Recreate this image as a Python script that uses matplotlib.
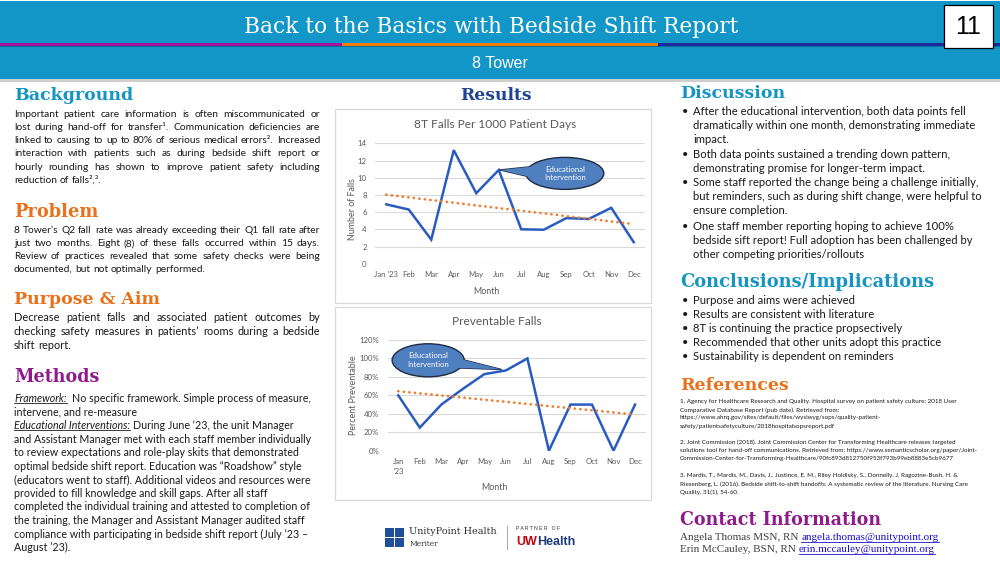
import matplotlib
matplotlib.use('Agg')
import matplotlib.pyplot as plt
from matplotlib.patches import Rectangle, Ellipse, Polygon
import numpy as np

# ---------------- data ----------------
months = ["Jan '23", "Feb", "Mar", "Apr", "May", "Jun", "Jul", "Aug", "Sep", "Oct", "Nov", "Dec"]
months2 = ["Jan\n'23", "Feb", "Mar", "Apr", "May", "Jun", "Jul", "Aug", "Sep", "Oct", "Nov", "Dec"]
falls_per_1000 = [6.9, 6.3, 2.8, 13.2, 8.2, 10.9, 4.0, 3.95, 5.3, 5.2, 6.5, 2.5]
pct_preventable = [60, 25, 50, 67, 83, 87, 100, 0, 50, 50, 0, 50]
falls_yticks = [0, 2, 4, 6, 8, 10, 12, 14]
pct_yticks = [0, 20, 40, 60, 80, 100, 120]
intervention_month = "Jun"

# ---------------- setup ----------------
W, H = 1000, 563
fig = plt.figure(figsize=(10, 5.63), dpi=100)
fig.patch.set_facecolor('white')
bg = fig.add_axes([0, 0, 1, 1])
bg.set_xlim(0, W); bg.set_ylim(H, 0); bg.axis('off')
R = fig.canvas.get_renderer()

BODY = ['Lato', 'DejaVu Sans']
SERIF = ['DejaVu Serif']
TXT = '#1a1a1a'

def wid(t):
    return t.get_window_extent(renderer=R).width

def fit(t, target):
    w = wid(t)
    t.set_fontsize(t.get_fontsize() * target / w)
    return t

def space_w(size, **kw):
    a = bg.text(0, 0, 'a a', fontsize=size, **kw)
    b = bg.text(0, 0, 'aa', fontsize=size, **kw)
    s = wid(a) - wid(b)
    a.remove(); b.remove()
    return s

def justify(x0, x1, y, line, size, last=False, color=TXT, family=BODY):
    words = line.split()
    ts = [bg.text(0, y, w, fontsize=size, va='center', ha='left', color=color, family=family) for w in words]
    ws = [wid(t) for t in ts]
    if last or len(words) == 1:
        gap = space_w(size, family=family)
    else:
        gap = (x1 - x0 - sum(ws)) / (len(words) - 1)
    x = x0
    for t, w in zip(ts, ws):
        t.set_x(x)
        x += w + gap

st_color = {'n': TXT, 'iu': TXT}

def rich(x, y, segs, size, family=BODY):
    sp = space_w(size, family=family)
    for s, st in segs:
        lead = len(s) - len(s.lstrip(' '))
        x += lead * sp
        s = s.strip(' ')
        italic = 'i' in st
        color = st_color.get(st, TXT)
        t = bg.text(x, y, s, fontsize=size, va='center', ha='left', color=color,
                    family=family, style='italic' if italic else 'normal')
        w = wid(t)
        if 'u' in st:
            bg.plot([x, x + w], [y + size * 0.62, y + size * 0.62], color=color, lw=0.6)
        x += w

def heading(x, y, s, color, target, ha='left'):
    t = bg.text(x, y, s, fontsize=13, va='center', ha=ha, color=color,
                family=SERIF, weight='bold')
    fit(t, target)
    return t

# ---------------- header ----------------
bg.add_patch(Rectangle((0, 1), W, 78, color='#1196c7', lw=0, zorder=1))
bg.add_patch(Rectangle((0, 79), W, 3, color='#cfcfcf', lw=0, zorder=1))
bg.add_patch(Rectangle((0, 45.5), W, 1.8, color='#0a6f96', lw=0, zorder=2))
bg.add_patch(Rectangle((0, 43.3), 341.7, 2.4, color='#a3129c', lw=0, zorder=3))
bg.add_patch(Rectangle((341.7, 43.3), 316.6, 2.4, color='#f07d00', lw=0, zorder=3))
bg.add_patch(Rectangle((658.3, 43.3), W - 658.3, 2.4, color='#1c2a9c', lw=0, zorder=3))
t = bg.text(491, 27, 'Back to the Basics with Bedside Shift Report', fontsize=16,
            family=SERIF, color='white', ha='center', va='center', zorder=4)
fit(t, 495)
t = bg.text(500, 63, '8 Tower', fontsize=11.5, family=['Liberation Sans'], color='white',
            ha='center', va='center', zorder=4)
bg.add_patch(Rectangle((944, 5), 49, 43, facecolor='white', edgecolor='black', lw=0.9, zorder=5))
bg.text(968.5, 27, '11', fontsize=18, family=['Liberation Sans'], color='black',
        ha='center', va='center', zorder=6)

# ---------------- left column ----------------
LX0, LX1 = 14, 320
heading(LX0, 96, 'Background', '#1695c2', 119)
bgd = ["Important patient care information is often miscommunicated or",
       "lost during hand-off for transfer\u00b9. Communication deficiencies  are",
       "linked to causing to up to 80% of serious medical errors\u00b2. Increased",
       "interaction with patients such as during bedside shift report or",
       "hourly rounding has shown to improve patient safety including",
       "reduction of falls\u00b2,\u00b3."]
ys = [114.3, 127.6, 140.8, 153.9, 167.0, 180.2]
for i, (l, y) in enumerate(zip(bgd, ys)):
    justify(LX0, LX1, y, l, 7.4, last=(i == len(bgd) - 1))

heading(LX0, 212, 'Problem', '#e8711a', 84)
prob = ["8 Tower\u2019s Q2 fall rate was already exceeding their Q1 fall rate after",
        "just two months. Eight (8) of these falls occurred within 15 days.",
        "Review of practices revealed that some safety checks were being",
        "documented, but not optimally performed."]
ys = [230.3, 243.6, 256.8, 269.6]
for i, (l, y) in enumerate(zip(prob, ys)):
    justify(LX0, LX1, y, l, 7.4, last=(i == len(prob) - 1))

heading(LX0, 300, 'Purpose & Aim', '#e8711a', 146)
purp = ["Decrease patient falls and associated patient outcomes by",
        "checking safety measures in patients\u2019 rooms during a bedside",
        "shift report."]
ys = [317.3, 331.5, 345.3]
for i, (l, y) in enumerate(zip(purp, ys)):
    justify(LX0, LX1, y, l, 7.9, last=(i == len(purp) - 1))

heading(LX0, 377.5, 'Methods', '#8e1b8c', 85)
meth = [[("Framework:", 'iu'), ("  No specific framework. Simple process of measure,", 'n')],
        [("intervene, and re-measure", 'n')],
        [("Educational Interventions:", 'iu'), (" During June \u201823, the unit Manager", 'n')],
        [("and Assistant Manager met with each staff member individually", 'n')],
        [("to review expectations and role-play skits that demonstrated", 'n')],
        [("optimal bedside shift report. Education was \u201cRoadshow\u201d style", 'n')],
        [("(educators went to staff). Additional videos and resources were", 'n')],
        [("provided to fill knowledge and skill gaps. After all staff", 'n')],
        [("completed the individual training and attested to completion of", 'n')],
        [("the training, the Manager and Assistant Manager audited staff", 'n')],
        [("compliance with participating in bedside shift report (July \u201923 \u2013", 'n')],
        [("August \u201923).", 'n')]]
for i, segs in enumerate(meth):
    rich(LX0, 398.3 + 13.58 * i, segs, 7.7)

# ---------------- middle column: charts ----------------
heading(496.5, 95, 'Results', '#1e4593', 71, ha='center')
bg.add_patch(Rectangle((335, 109.3), 316, 194, facecolor='white', edgecolor='#d9d9d9', lw=0.9))
bg.add_patch(Rectangle((335, 306.7), 316, 193.3, facecolor='white', edgecolor='#d9d9d9', lw=0.9))

GRAY = '#595959'
LINE = '#2a5cc0'
TREND = '#ed7d31'

def style_axes(ax, yticks, ylabels, xlabels, pad_x):
    ax.set_facecolor('none')
    for s in ax.spines.values():
        s.set_visible(False)
    ax.set_yticks(yticks)
    ax.set_yticklabels(ylabels, fontsize=5.6, color=GRAY, family=BODY)
    ax.set_xticks(np.arange(len(xlabels)))
    ax.set_xticklabels(xlabels, fontsize=5.6, color=GRAY, family=BODY, linespacing=1.5)
    ax.tick_params(axis='both', length=0)
    ax.tick_params(axis='y', pad=6)
    ax.tick_params(axis='x', pad=pad_x)
    ax.grid(axis='y', color='#d9d9d9', lw=0.8)
    ax.set_axisbelow(True)
    ax.set_xlim(-0.5, len(xlabels) - 0.5)

def callout(ax, center, w, h, tip, base1, base2):
    fc, ec = '#4f7fbf', '#1d2b44'
    tri1 = Polygon([tip, base1, base2], closed=True, facecolor=fc, edgecolor=ec, lw=1.0,
                   clip_on=False, zorder=10)
    ell = Ellipse(center, w, h, facecolor=fc, edgecolor=ec, lw=1.0, clip_on=False, zorder=11)
    tri2 = Polygon([tip, base1, base2], closed=True, facecolor=fc, edgecolor='none', lw=0,
                   clip_on=False, zorder=12)
    for p in (tri1, ell, tri2):
        ax.add_patch(p)
    ax.text(center[0], center[1], 'Educational\nIntervention', color='white', fontsize=5.6,
            family=BODY, ha='center', va='center', zorder=13, linespacing=1.3)

x = np.arange(len(months))
jun = months.index(intervention_month)

# chart 1
ax1 = fig.add_axes([0.375, 1 - 263.7 / H, 0.27, 120.4 / H])
style_axes(ax1, falls_yticks, [str(v) for v in falls_yticks], months, 5.0)
ax1.set_ylim(0, 14)
ax1.plot(x, falls_per_1000, color=LINE, lw=1.8, zorder=3, solid_joinstyle='miter')
c1 = np.polyfit(x, falls_per_1000, 1)
ax1.plot(x, np.polyval(c1, x), color=TREND, lw=1.9, linestyle=(0, (0.1, 2.0)),
         dash_capstyle='round', zorder=4)
callout(ax1, (7.94, 10.5), 3.46, 3.72, (jun + 0.05, falls_per_1000[jun]), (6.7, 11.35), (6.7, 9.9))
bg.text(495, 125, '8T Falls Per 1000 Patient Days', fontsize=8.6, color=GRAY, family=BODY,
        ha='center', va='center')
bg.text(486, 291.7, 'Month', fontsize=6.4, color=GRAY, family=BODY, ha='center', va='center')
bg.text(352.7, 209, 'Number of Falls', fontsize=6.4, color=GRAY, family=BODY, ha='center',
        va='center', rotation=90)

# chart 2
ax2 = fig.add_axes([387.5 / W, 1 - 450.7 / H, 258.3 / W, 110.7 / H])
style_axes(ax2, pct_yticks, ['%d%%' % v for v in pct_yticks], months2, 5.6)
ax2.set_ylim(0, 120)
ax2.plot(x, pct_preventable, color=LINE, lw=1.8, zorder=3, solid_joinstyle='miter')
c2 = np.polyfit(x, pct_preventable, 1)
ax2.plot(x, np.polyval(c2, x), color=TREND, lw=1.9, linestyle=(0, (0.1, 2.0)),
         dash_capstyle='round', zorder=4)
callout(ax2, (1.39, 98), 3.35, 35.8, (jun - 0.2, pct_preventable[jun] + 1), (2.6, 101), (2.5, 90))
bg.text(496.7, 321.7, 'Preventable Falls', fontsize=8.6, color=GRAY, family=BODY,
        ha='center', va='center')
bg.text(494, 487.7, 'Month', fontsize=6.4, color=GRAY, family=BODY, ha='center', va='center')
bg.text(353.3, 395.6, 'Percent Preventable', fontsize=6.4, color=GRAY, family=BODY,
        ha='center', va='center', rotation=90)

# logos
ub = '#1f4f9a'
for (lx, ly) in [(385, 527.7), (395, 527.7), (385, 537.7), (395, 537.7)]:
    bg.add_patch(Rectangle((lx, ly), 9, 9, color=ub, lw=0))
t = bg.text(409.3, 531.5, 'UnityPoint Health', fontsize=7, family=SERIF, color='#333333',
            ha='left', va='center')
fit(t, 88)
t = bg.text(409.3, 544.3, 'Meriter', fontsize=6, family=SERIF, color='#333333',
            ha='left', va='center')
fit(t, 29)
bg.plot([506.7, 506.7], [525.7, 549], color='#b0b0b0', lw=0.8)
t = bg.text(516, 529, 'P A R T N E R   O F', fontsize=4, family=['Liberation Sans'],
            color='#333333', ha='left', va='center')
fit(t, 44)
t1 = bg.text(516, 541.7, 'UW', fontsize=9, family=['Liberation Sans'], weight='bold',
             color='#c5050c', ha='left', va='center')
w1 = wid(t1)
bg.text(516 + w1, 541.7, 'Health', fontsize=9, family=['Liberation Sans'], weight='bold',
        color='#1f3a7a', ha='left', va='center')

# ---------------- right column ----------------
RX = 680
RS = 8.1
heading(RX, 93.3, 'Discussion', '#1695c2', 105)
disc = [["After the educational intervention, both data points fell",
         "dramatically within one month, demonstrating immediate", "impact."],
        ["Both data points sustained a trending down pattern,",
         "demonstrating promise for longer-term impact."],
        ["Some staff reported the change being a challenge initially,",
         "but reminders, such as during shift change, were helpful to", "ensure completion."],
        ["One staff member reporting hoping to achieve 100%",
         "bedside sift report! Full adoption has been challenged by",
         "other competing priorities/rollouts"]]
ys = [111.7, 125.7, 139.3, 154, 168.3, 183, 197, 211, 226, 240, 254]
k = 0
for item in disc:
    for j, l in enumerate(item):
        if j == 0:
            bg.text(681.5, ys[k], '\u2022', fontsize=RS, family=BODY, color=TXT, va='center')
        bg.text(693.3, ys[k], l, fontsize=RS, family=BODY, color=TXT, va='center')
        k += 1

heading(RX, 281.7, 'Conclusions/Implications', '#1695c2', 253)
concl = ["Purpose and aims were achieved", "Results are consistent with literature",
         "8T is continuing the practice propsectively",
         "Recommended that other units adopt this practice",
         "Sustainability is dependent on reminders"]
for i, l in enumerate(concl):
    y = 300 + 14.25 * i
    bg.text(681.5, y, '\u2022', fontsize=RS, family=BODY, color=TXT, va='center')
    bg.text(693.3, y, l, fontsize=RS, family=BODY, color=TXT, va='center')

heading(RX, 385.7, 'References', '#e8711a', 108)
refs = [("1. Agency for Healthcare Research and Quality. Hospital survey on patient safety culture: 2018 User", 401.7),
        ("Comparative Database Report (pub date). Retrieved from:", 409.9),
        ("https://www.ahrq.gov/sites/default/files/wysiwyg/sops/quality-patient-", 418.0),
        ("safety/patientsafetyculture/2018hospitalsopsreport.pdf", 426.1),
        ("2. Joint Commission (2018). Joint Commission Center for Transforming Healthcare releases targeted", 442.3),
        ("solutions tool for hand-off communications. Retrieved from: https://www.semanticscholar.org/paper/Joint-", 450.5),
        ("Commission-Center-for-Transforming-Healthcare/90fc893d812750f953f793b99eb8883e5cb9677", 458.7),
        ("3. Mardis, T., Mardis, M., Davis, J., Justince, E. M., Riley Holdisky, S., Donnelly, J, Ragozine-Bush, H. &", 476.0),
        ("Riesenberg, L. (2016). Bedside shift-to-shift handoffs: A systematic review of the literature. Nursing Care", 484.4),
        ("Quality, 31(1), 54-60.", 492.7)]
t0 = bg.text(RX, refs[0][1], refs[0][0], fontsize=5, family=BODY, color=TXT, va='center')
fit(t0, 281)
rs = t0.get_fontsize()
for s, y in refs[1:]:
    bg.text(RX, y, s, fontsize=rs, family=BODY, color=TXT, va='center')

heading(RX, 520, 'Contact Information', '#8e1b8c', 201)
for (name, mail, y) in [("Angela Thomas MSN, RN ", "angela.thomas@unitypoint.org", 537.7),
                         ("Erin McCauley, BSN, RN ", "erin.mccauley@unitypoint.org", 549.3)]:
    ta = bg.text(RX, y, name.strip(), fontsize=8, family=['Liberation Serif'], color='#404040', va='center')
    wa = wid(ta) + space_w(8, family=['Liberation Serif'])
    tb = bg.text(RX + wa, y, mail, fontsize=8, family=['Liberation Serif'], color='#1a0dcc', va='center')
    wb = wid(tb)
    bg.plot([RX + wa, RX + wa + wb], [y + 4.6, y + 4.6], color='#1a0dcc', lw=0.6)

fig.savefig('out.png', dpi=100, facecolor='white')
